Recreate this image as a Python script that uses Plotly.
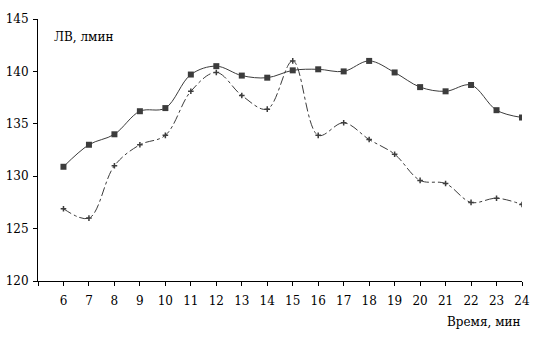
import plotly.graph_objects as go

minutes = list(range(6, 25))
lv_solid = [130.9, 133.0, 134.0, 136.2, 136.5, 139.7, 140.5, 139.6, 139.4,
            140.1, 140.2, 140.0, 141.0, 139.9, 138.5, 138.1, 138.7, 136.3, 135.6]
lv_dashed = [126.9, 126.0, 131.0, 133.0, 133.9, 138.1, 139.9, 137.7, 136.4,
             141.0, 133.9, 135.1, 133.5, 132.1, 129.6, 129.3, 127.5, 127.9, 127.3]
y_ticks = [120, 125, 130, 135, 140, 145]
x_ticks = list(range(5, 25))
x_labels = [""] + [str(m) for m in minutes]

col = "#3c3c3c"
font = dict(family="DejaVu Serif", size=12, color="#000000")

fig = go.Figure()
fig.add_trace(go.Scatter(
    x=minutes, y=lv_dashed, mode="lines+markers",
    line=dict(color=col, width=1, dash="dashdot", shape="spline", smoothing=1.0),
    marker=dict(symbol="cross-thin", size=4, line=dict(color=col, width=1.5)),
    showlegend=False))
fig.add_trace(go.Scatter(
    x=minutes, y=lv_solid, mode="lines+markers",
    line=dict(color=col, width=1, shape="spline", smoothing=1.0),
    marker=dict(symbol="square", size=6, color=col),
    showlegend=False))

fig.update_layout(
    width=539, height=346,
    margin=dict(l=38, r=17, t=19, b=65),
    paper_bgcolor="white", plot_bgcolor="white",
    font=font,
    xaxis=dict(range=[5, 24], tickvals=x_ticks, ticktext=x_labels, automargin=False,
               showgrid=False, zeroline=False, showline=True, linecolor="black",
               linewidth=1, ticks="outside", ticklen=4, tickcolor="black",
               ticklabelstandoff=5, tickfont=font),
    yaxis=dict(range=[120, 145], tickvals=y_ticks, showgrid=False, zeroline=False,
               automargin=False,
               showline=True, linecolor="black", linewidth=1, ticks="outside",
               ticklen=4, tickcolor="black", ticklabelstandoff=2, tickfont=font),
    annotations=[
        dict(text="ЛВ, лмин", xref="paper", yref="paper", x=0.028, y=0.93,
             xanchor="left", yanchor="middle", showarrow=False, font=font),
        dict(text="Время, мин", xref="paper", yref="paper", x=1.0, y=-0.155,
             xanchor="right", yanchor="middle", showarrow=False, font=font),
    ],
)
fig.write_html("out.html")
